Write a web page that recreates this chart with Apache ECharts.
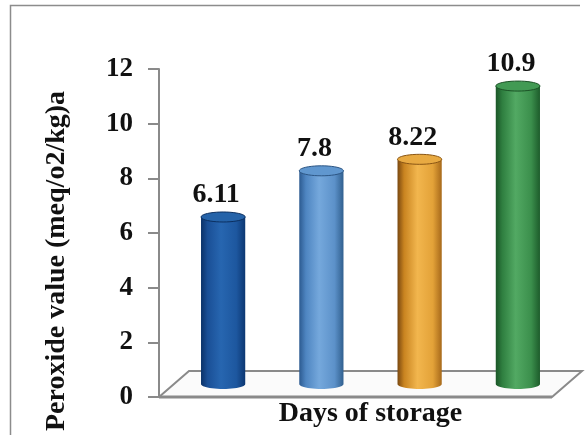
<!DOCTYPE html>
<html>
<head>
<meta charset="utf-8">
<script src="https://cdn.jsdelivr.net/npm/echarts@6/dist/echarts.min.js"></script>
<style>
  html, body { margin: 0; padding: 0; background: #ffffff; }
  #chart { width: 588px; height: 435px; }
</style>
</head>
<body>
<div id="chart"></div>
<script>
// Storage periods (not labelled on the axis) and peroxide values
const categories = ['Period 1', 'Period 2', 'Period 3', 'Period 4'];
const peroxideValues = [6.11, 7.8, 8.22, 10.9];
const yTicks = [0, 2, 4, 6, 8, 10, 12];

const yAxisTitle = 'Peroxide value (meq/o2/kg)a';
const xAxisTitle = 'Days of storage';

// Cylinder shading: dark edge -> highlight -> dark edge
const barPalettes = [
  { stops: ['#0b3268', '#1a4f96', '#2766b0', '#1d579f', '#0c3772'], cap: '#2563a9', rim: '#0b2f60' },
  { stops: ['#2c5a90', '#4e85c1', '#75a8dc', '#5c91c9', '#31608f'], cap: '#6097cf', rim: '#2d5684' },
  { stops: ['#7a4810', '#c98420', '#f2b64e', '#e3a238', '#a7691a'], cap: '#e8aa42', rim: '#8a5614' },
  { stops: ['#1b5628', '#2f7f40', '#52a963', '#3b8f4c', '#1d5c2b'], cap: '#429a54', rim: '#1b5226' }
];

const FONT = '"Liberation Serif", "Times New Roman", serif';
const DEPTH_X = 30;   // floor depth, horizontal shift
const DEPTH_Y = 26;   // floor depth, vertical shift
const AXIS_GRAY = '#8a8a8a';

function ellipsePoints(cx, cy, rx, ry, t0, t1, n) {
  const pts = [];
  for (let k = 0; k <= n; k++) {
    const t = t0 + (t1 - t0) * k / n;
    pts.push([cx + rx * Math.cos(t), cy + ry * Math.sin(t)]);
  }
  return pts;
}

function renderFloor(params, api) {
  const cs = params.coordSys;
  const x0 = cs.x, x1 = cs.x + cs.width, yb = cs.y + cs.height;
  return {
    type: 'group',
    children: [
      {
        type: 'polygon',
        shape: { points: [[x0, yb], [x0 + DEPTH_X, yb - DEPTH_Y], [x1 + DEPTH_X, yb - DEPTH_Y], [x1, yb]] },
        style: { fill: '#fbfbfb', stroke: AXIS_GRAY, lineWidth: 2 }
      },
      {
        type: 'line',
        shape: { x1: x0, y1: yb, x2: x1, y2: yb },
        style: { stroke: AXIS_GRAY, lineWidth: 3 }
      }
    ]
  };
}

function renderCylinder(params, api) {
  const i = api.value(0);
  const v = api.value(1);
  const top = api.coord([i, v]);
  const base = api.coord([i, 0]);
  const band = api.size([1, 0])[0];
  const rx = band * 0.45 / 2;
  const ry = 5;
  const cx = top[0] + DEPTH_X / 2;
  const yTop = top[1] - DEPTH_Y / 2;
  const yBot = base[1] - DEPTH_Y / 2;
  const pal = barPalettes[params.dataIndex % barPalettes.length];

  const body = [[cx - rx, yTop]]
    .concat(ellipsePoints(cx, yBot, rx, ry, Math.PI, 0, 24))
    .concat([[cx + rx, yTop]]);

  return {
    type: 'group',
    children: [
      {
        type: 'polygon',
        shape: { points: body },
        style: {
          fill: {
            type: 'linear', x: 0, y: 0, x2: 1, y2: 0,
            colorStops: pal.stops.map((c, k) => ({ offset: [0, 0.15, 0.45, 0.8, 1][k], color: c }))
          }
        }
      },
      {
        type: 'polygon',
        shape: { points: ellipsePoints(cx, yTop, rx, ry, 0, Math.PI * 2, 40) },
        style: { fill: pal.cap, stroke: pal.rim, lineWidth: 1 }
      },
      {
        type: 'text',
        x: top[0] + 8,
        y: yTop - ry - 3,
        style: {
          text: String(v),
          fontFamily: FONT,
          fontWeight: 'bold',
          fontSize: 28,
          fill: '#111111',
          align: 'center',
          verticalAlign: 'bottom'
        }
      }
    ]
  };
}

const chart = echarts.init(document.getElementById('chart'));
chart.setOption({
  backgroundColor: '#ffffff',
  animation: false,
  grid: { left: 159, right: 36, top: 69, bottom: 38, containLabel: false },
  graphic: [
    {
      type: 'polyline',
      shape: { points: [[10.5, 440], [10.5, 5.5], [580, 5.5]] },
      style: { stroke: '#8c8c8c', lineWidth: 1.5, fill: null },
      silent: true
    }
  ],
  xAxis: {
    type: 'category',
    data: categories,
    axisLine: { show: false },
    axisTick: { show: false },
    axisLabel: { show: false },
    splitLine: { show: false },
    name: xAxisTitle,
    nameLocation: 'middle',
    nameGap: 3,
    nameTextStyle: {
      fontFamily: FONT, fontWeight: 'bold', fontSize: 28, color: '#111111',
      padding: [0, 0, 0, 30]
    }
  },
  yAxis: {
    type: 'value',
    min: yTicks[0],
    max: yTicks[yTicks.length - 1],
    interval: yTicks[1] - yTicks[0],
    axisLine: { show: true, lineStyle: { color: AXIS_GRAY, width: 2 } },
    axisTick: { show: true, length: 11, lineStyle: { color: AXIS_GRAY, width: 2 } },
    splitLine: { show: false },
    axisLabel: {
      margin: 26,
      fontFamily: FONT, fontWeight: 'bold', fontSize: 27, color: '#111111'
    },
    name: yAxisTitle,
    nameLocation: 'middle',
    nameRotate: 90,
    nameGap: 88,
    nameTextStyle: {
      fontFamily: FONT, fontWeight: 'bold', fontSize: 28, color: '#111111',
      padding: [0, 56, 0, 0]
    }
  },
  series: [
    {
      type: 'custom',
      z: 1,
      silent: true,
      renderItem: renderFloor,
      data: [[0, 0]],
      encode: { x: 0, y: 1 }
    },
    {
      type: 'custom',
      z: 2,
      renderItem: renderCylinder,
      data: peroxideValues.map((v, i) => [i, v]),
      encode: { x: 0, y: 1 }
    }
  ]
});
</script>
</body>
</html>
